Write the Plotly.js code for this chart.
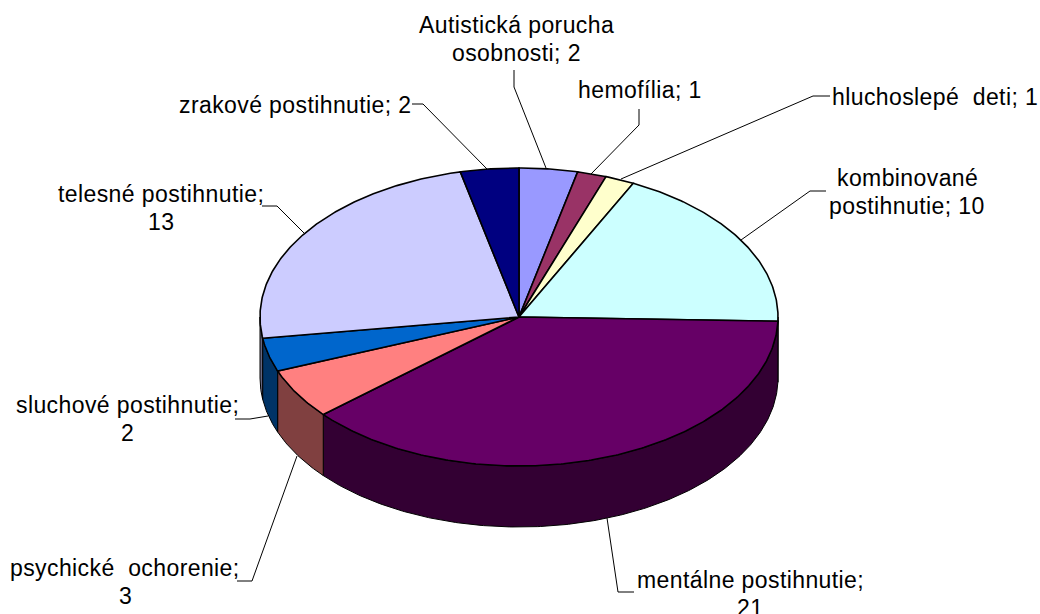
<!DOCTYPE html>
<html>
<head>
<meta charset="utf-8">
<script src="https://cdn.plot.ly/plotly-3.0.1.min.js"></script>
<style>
html,body{margin:0;padding:0;background:#fff;}
#chart{width:1040px;height:614px;}
.annotation-text{letter-spacing:0.4px;}
</style>
</head>
<body>
<div id="chart"></div>
<script>
// Data
const categories = ["Autistická porucha osobnosti","hemofília","hluchoslepé deti","kombinované postihnutie","mentálne postihnutie","psychické ochorenie","sluchové postihnutie","telesné postihnutie","zrakové postihnutie"];
const values = [2,1,1,10,21,3,2,13,2];
const topColors = ["#9999FF","#993366","#FFFFCC","#CCFFFF","#660066","#FF8080","#0066CC","#CCCCFF","#000080"];
const sideColors = ["#4D4D80","#4D1A33","#808066","#668080","#330033","#804040","#003366","#666680","#000040"];
const labelLines = [["Autistická porucha","osobnosti; 2"],["hemofília; 1"],["hluchoslepé\u00a0 deti; 1"],["kombinované","postihnutie; 10"],["mentálne postihnutie;","21"],["psychické\u00a0 ochorenie;","3"],["sluchové postihnutie;","2"],["telesné postihnutie;","13"],["zrakové postihnutie; 2"]];
const labelX = [516,640,935,907,750,125,127,161,295];
const labelY = [25,90,97,178,580,568,405,194,105];
const leaderX = [[514,514,546],[639,639,591],[830,813,621],[826,810,741],[634,618,607],[237,252,297],[235,250,268],[262,277,305],[412,423,487]];
const leaderY = [[70,87,168],[109,125,174],[96,96,179],[191,191,240],[592,592,518],[581,581,456],[419,419,416],[206,206,234],[104,104,169]];
const lineStep = 28;

// Pie projection (pixel-scaled axes: 1 unit = 1 px)
const cx = 519, cy = 317, rx = 259, ry = 149, depth = 61;
const total = values.reduce((a,b)=>a+b,0);
const px = a => cx + rx*Math.sin(a);
const py = a => cy - ry*Math.cos(a);
const arc = (a0,a1,dy) => {
  const n = Math.max(2,Math.ceil(Math.abs(a1-a0)/0.01)), xs=[], ys=[];
  for(let i=0;i<=n;i++){const a=a0+(a1-a0)*i/n; xs.push(px(a)); ys.push(py(a)+dy);}
  return [xs,ys];
};
const traces = [];
const hoverless = {mode:"lines",fill:"toself",hoverinfo:"skip",showlegend:false};
let cum = 0;
const spans = values.map(v=>{const s=[cum/total*2*Math.PI,(cum+v)/total*2*Math.PI];cum+=v;return s;});

// Side walls: only the front half of the rim is visible
spans.forEach((s,i)=>{
  const a0=Math.max(s[0],Math.PI/2), a1=Math.min(s[1],1.5*Math.PI);
  if(a1<=a0) return;
  const [tx,ty]=arc(a0,a1,0), [bx,by]=arc(a1,a0,depth);
  const xs=tx.concat(bx,[tx[0]]), ys=ty.concat(by,[ty[0]]);
  traces.push(Object.assign({x:xs,y:ys,fillcolor:sideColors[i],line:{color:"#000",width:1}},hoverless));
});
// Top face wedges
spans.forEach((s,i)=>{
  const [ax,ay]=arc(s[0],s[1],0);
  traces.push(Object.assign({x:[cx].concat(ax,[cx]),y:[cy].concat(ay,[cy]),fillcolor:topColors[i],line:{color:"#000",width:1.6},name:categories[i]},hoverless));
});
// Leader lines
leaderX.forEach((lx,i)=>{
  traces.push({x:lx,y:leaderY[i],mode:"lines",line:{color:"#000",width:1},hoverinfo:"skip",showlegend:false});
});

const annotations = [];
labelLines.forEach((lines,i)=>lines.forEach((t,j)=>annotations.push({x:labelX[i],y:labelY[i]+j*lineStep,xref:"x",yref:"y",text:t,showarrow:false,xanchor:"center",yanchor:"middle",align:"center",font:{family:"Liberation Sans, Arial, sans-serif",size:23,color:"#000"},borderpad:0})));

const hidden = {visible:false,fixedrange:true};
Plotly.newPlot("chart",traces,{
  width:1040,height:614,margin:{l:0,r:0,t:0,b:0},
  paper_bgcolor:"#fff",plot_bgcolor:"#fff",showlegend:false,
  xaxis:Object.assign({range:[0,1040]},hidden),
  yaxis:Object.assign({range:[614,0]},hidden),
  annotations:annotations
},{displayModeBar:false,staticPlot:true});
</script>
</body>
</html>
